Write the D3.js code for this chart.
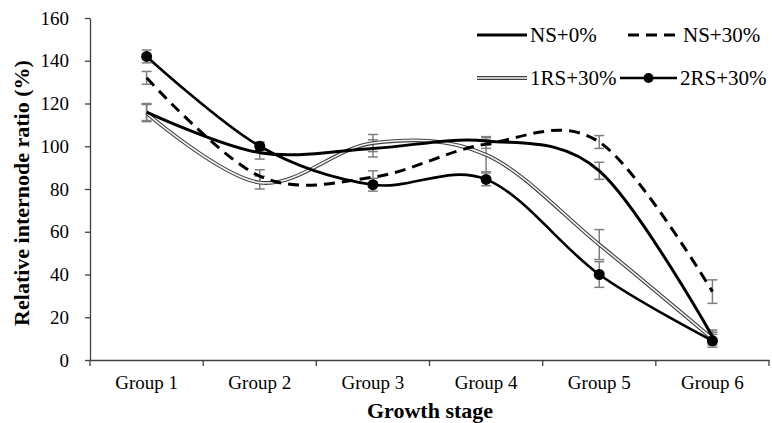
<!DOCTYPE html>
<html>
<head>
<meta charset="utf-8">
<script src="https://cdn.jsdelivr.net/npm/d3@7"></script>
<style>
  body { margin: 0; background: #fff; }
  text { font-family: "Liberation Serif", "Times New Roman", serif; }
</style>
</head>
<body>
<div id="root"></div>
<script>
var groups = ['Group 1', 'Group 2', 'Group 3', 'Group 4', 'Group 5', 'Group 6'];
var yTicks = [0, 20, 40, 60, 80, 100, 120, 140, 160];

var ns0 = [116, 97, 99, 102.5, 88.5, 11];
var ns0Err = [4, 3, 4, 2, 4, 3];
var ns30 = [132, 86, 85.5, 101, 102, 32];
var ns30Err = [3, 3, 3, 2, 3, 5.5];
var rs1 = [115.5, 83, 101.5, 96, 54, 10];
var rs1Err = [4, 3, 4, 8, 7, 3];
var rs2 = [142, 100, 82, 84.5, 40, 9];
var rs2Err = [3, 2, 3, 3, 6, 3];

var series = [
  { name: 'NS+0%', values: ns0, err: ns0Err, kind: 'solid' },
  { name: 'NS+30%', values: ns30, err: ns30Err, kind: 'dash' },
  { name: '1RS+30%', values: rs1, err: rs1Err, kind: 'double' },
  { name: '2RS+30%', values: rs2, err: rs2Err, kind: 'marker' }
];

var w = 772,
    h = 423;

var svg = d3.select('#root')
  .append('svg')
    .attr('width', w)
    .attr('height', h);

var x = d3.scaleBand()
    .domain(groups)
    .range([90, 769])
    .paddingInner(0)
    .paddingOuter(0);

var y = d3.scaleLinear()
    .domain([0, 160])
    .range([360, 18]);

var axisColor = '#404040';

// y axis
var yAxis = svg.append('g')
    .attr('transform', 'translate(90,0)')
    .call(d3.axisLeft(y).tickValues(yTicks).tickSize(5).tickPadding(16).tickSizeOuter(0));
yAxis.select('.domain').attr('stroke', axisColor).attr('stroke-width', 1.3);
yAxis.selectAll('.tick line').attr('stroke', axisColor).attr('stroke-width', 1.3);
yAxis.selectAll('.tick text')
    .attr('font-family', '"Liberation Serif", serif')
    .attr('font-size', 19)
    .attr('fill', '#000');

// x axis: labels at band centres, ticks at band edges
var xAxis = svg.append('g')
    .attr('transform', 'translate(0,360)')
    .call(d3.axisBottom(x).tickSize(0).tickPadding(16).tickSizeOuter(0));
xAxis.select('.domain').attr('stroke', axisColor).attr('stroke-width', 1.3);
xAxis.selectAll('.tick text')
    .attr('font-family', '"Liberation Serif", serif')
    .attr('font-size', 19)
    .attr('fill', '#000');

var edges = groups.map(function (g) { return x(g); }).concat([x.range()[1]]);
xAxis.selectAll('.edge')
    .data(edges)
  .enter().append('line')
    .attr('class', 'edge')
    .attr('x1', function (d) { return d; })
    .attr('x2', function (d) { return d; })
    .attr('y1', 0)
    .attr('y2', 6)
    .attr('stroke', axisColor)
    .attr('stroke-width', 1.3);

// titles
svg.append('text')
    .attr('transform', 'translate(29,193) rotate(-90)')
    .attr('text-anchor', 'middle')
    .attr('font-size', 22)
    .attr('font-weight', 'bold')
    .text('Relative internode ratio (%)');

svg.append('text')
    .attr('x', 430)
    .attr('y', 418)
    .attr('text-anchor', 'middle')
    .attr('font-size', 22)
    .attr('font-weight', 'bold')
    .text('Growth stage');

function cx(i) {
  return x(groups[i]) + x.bandwidth() / 2;
}

// error bars
var errG = svg.append('g');
series.forEach(function (s) {
  s.values.forEach(function (v, i) {
    var x0 = cx(i),
        top = y(v + s.err[i]),
        bot = y(v - s.err[i]);
    errG.append('line')
        .attr('x1', x0).attr('x2', x0)
        .attr('y1', top).attr('y2', bot);
    errG.append('line')
        .attr('x1', x0 - 5).attr('x2', x0 + 5)
        .attr('y1', top).attr('y2', top);
    errG.append('line')
        .attr('x1', x0 - 5).attr('x2', x0 + 5)
        .attr('y1', bot).attr('y2', bot);
  });
});
errG.selectAll('line')
    .attr('stroke', '#7f7f7f')
    .attr('stroke-width', 1.5);

var line = d3.line()
    .x(function (d, i) { return cx(i); })
    .y(function (d) { return y(d); })
    .curve(d3.curveCardinal.tension(0));

function drawStyle(sel, kind) {
  if (kind === 'solid') {
    sel.append('path').attr('d', sel.datum().d)
        .attr('fill', 'none').attr('stroke', '#000').attr('stroke-width', 3);
  } else if (kind === 'dash') {
    sel.append('path').attr('d', sel.datum().d)
        .attr('fill', 'none').attr('stroke', '#000').attr('stroke-width', 3)
        .attr('stroke-dasharray', '11,7');
  } else if (kind === 'double') {
    sel.append('path').attr('d', sel.datum().d)
        .attr('fill', 'none').attr('stroke', '#404040').attr('stroke-width', 3.8);
    sel.append('path').attr('d', sel.datum().d)
        .attr('fill', 'none').attr('stroke', '#f2f2f2').attr('stroke-width', 1.6);
  } else {
    sel.append('path').attr('d', sel.datum().d)
        .attr('fill', 'none').attr('stroke', '#000').attr('stroke-width', 2.6);
  }
}

// series lines
var order = [2, 0, 1, 3];
order.forEach(function (k) {
  var s = series[k];
  var g = svg.append('g').datum({ d: line(s.values) });
  drawStyle(g, s.kind);
  if (s.kind === 'marker') {
    g.selectAll('circle')
        .data(s.values)
      .enter().append('circle')
        .attr('cx', function (d, i) { return cx(i); })
        .attr('cy', function (d) { return y(d); })
        .attr('r', 5.5)
        .attr('fill', '#000');
  }
});

// legend
var legendPos = [
  { x1: 477, x2: 527, tx: 530, y: 35 },
  { x1: 628, x2: 680, tx: 683, y: 35 },
  { x1: 477, x2: 527, tx: 530, y: 78 },
  { x1: 620, x2: 677, tx: 680, y: 78 }
];

series.forEach(function (s, k) {
  var p = legendPos[k];
  var g = svg.append('g').datum({ d: 'M' + p.x1 + ',' + p.y + 'H' + p.x2 });
  drawStyle(g, s.kind);
  if (s.kind === 'marker') {
    g.append('circle')
        .attr('cx', (p.x1 + p.x2) / 2)
        .attr('cy', p.y)
        .attr('r', 5)
        .attr('fill', '#000');
  }
  svg.append('text')
      .attr('x', p.tx)
      .attr('y', p.y + 7)
      .attr('font-size', 21)
      .text(s.name);
});
</script>
</body>
</html>
